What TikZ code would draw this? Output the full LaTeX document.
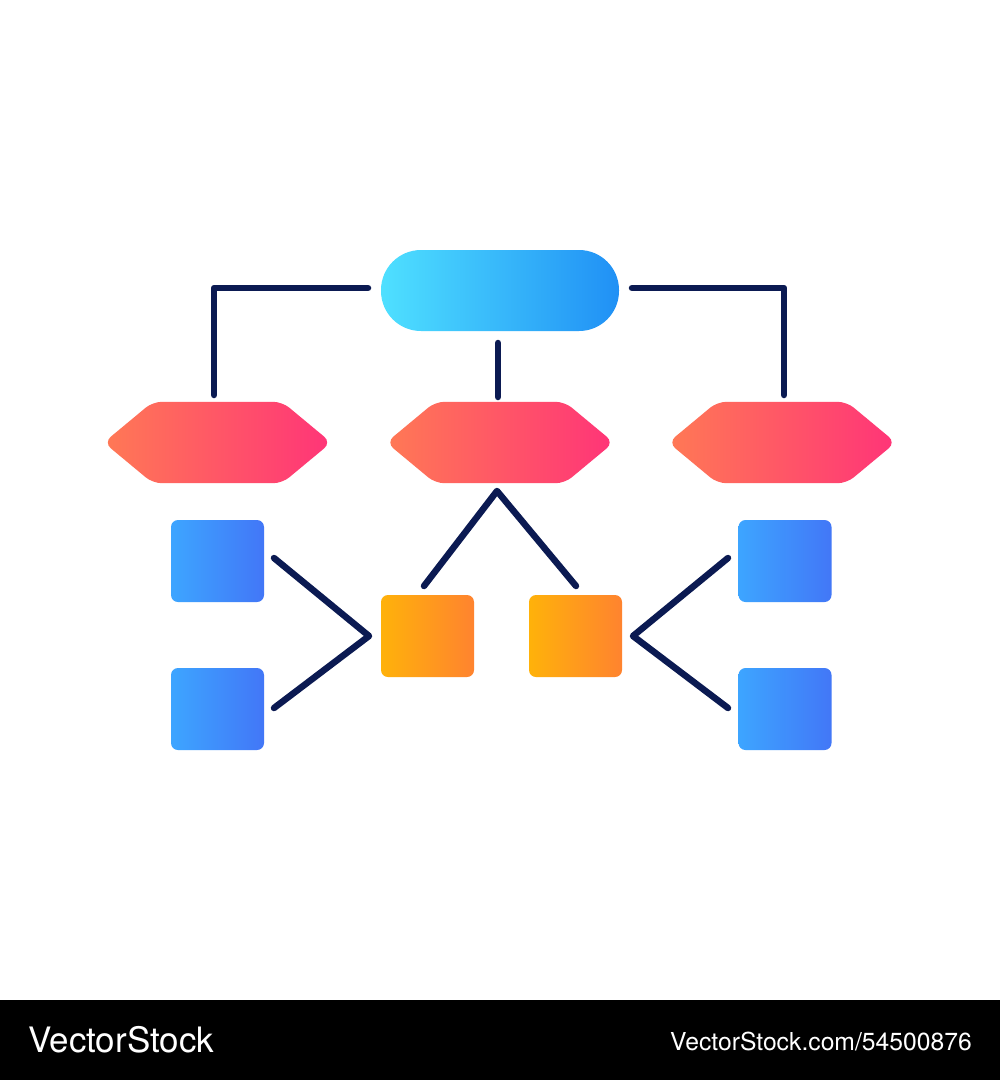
\documentclass[tikz,border=0pt]{standalone}
\usepackage{fontspec}
\setmainfont{TeX Gyre Heros}
\usetikzlibrary{calc}
\definecolor{navy}{HTML}{0B1A52}
\definecolor{pillL}{HTML}{4FE0FF}
\definecolor{pillR}{HTML}{2090F5}
\definecolor{hexL}{HTML}{FF7955}
\definecolor{hexR}{HTML}{FF3478}
\definecolor{bluL}{HTML}{3DA5FF}
\definecolor{bluR}{HTML}{4277F7}
\definecolor{oraL}{HTML}{FFB20A}
\definecolor{oraR}{HTML}{FF832F}
\tikzset{
  conn/.style={draw=navy, line width=6.5pt, line cap=round, line join=round},
  bluebox/.style={minimum width=93pt, minimum height=82pt, inner sep=0pt, rounded corners=7pt, left color=bluL, right color=bluR, draw=none},
  orabox/.style={minimum width=93pt, minimum height=82pt, inner sep=0pt, rounded corners=7pt, left color=oraL, right color=oraR, draw=none},
  pillbox/.style={minimum width=238pt, minimum height=81pt, inner sep=0pt, rounded corners=40pt, left color=pillL, right color=pillR, draw=none},
  hexanchor/.style={minimum width=217pt, minimum height=81pt, inner sep=0pt, draw=none},
}
\newcommand{\hexshape}[1]{%
  \shade[left color=hexL, right color=hexR, rounded corners=9pt]
    ($(#1.west)+(-5,0)$) -- ($(#1.north west)+(44,0)$) -- ($(#1.north east)+(-44,0)$) --
    ($(#1.east)+(5,0)$) -- ($(#1.south east)+(-44,0)$) -- ($(#1.south west)+(44,0)$) -- cycle;}
\begin{document}
\begin{tikzpicture}[x=1pt,y=-1pt]
\useasboundingbox (0,0) rectangle (1000,1080);
\fill[white] (0,0) rectangle (1000,1000);
\fill[black] (0,1000) rectangle (1000,1080);

% top pill
\node[pillbox] (top) at (500,290.5) {};

% hexagons
\node[hexanchor] (h1) at (217.5,442.5) {};
\node[hexanchor] (h2) at (500,442.5) {};
\node[hexanchor] (h3) at (782,442.5) {};
\hexshape{h1}
\hexshape{h2}
\hexshape{h3}

% squares
\node[bluebox] (b1) at (217.5,561) {};
\node[bluebox] (b2) at (217.5,709) {};
\node[bluebox] (b3) at (785,561) {};
\node[bluebox] (b4) at (785,709) {};
\node[orabox] (o1) at (427.5,636) {};
\node[orabox] (o2) at (575.5,636) {};

% connector points
\coordinate (tl) at (368,288);
\coordinate (tlc) at (214,288);
\coordinate (h1t) at (214,395);
\coordinate (tr) at (632,288);
\coordinate (trc) at (784,288);
\coordinate (h3t) at (784,395);
\coordinate (tm) at (498,343);
\coordinate (h2t) at (498,397);
\coordinate (h2b) at (497,491);
\coordinate (o1t) at (424,586);
\coordinate (o2t) at (576,586);
\coordinate (b1r) at (274,558);
\coordinate (b2r) at (274,708);
\coordinate (o1l) at (369,636);
\coordinate (b3l) at (728,558);
\coordinate (b4l) at (728,708);
\coordinate (o2r) at (633,636);

\draw[conn] (tl) -- (tlc) -- (h1t);
\draw[conn] (tr) -- (trc) -- (h3t);
\draw[conn] (tm) -- (h2t);
\draw[conn] (o1t) -- (h2b) -- (o2t);
\draw[conn] (b1r) -- (o1l) -- (b2r);
\draw[conn] (b3l) -- (o2r) -- (b4l);

% footer
\node[anchor=base west, inner sep=0pt, text=white, font=\fontsize{35}{35}\selectfont] (wm1) at (28,1052) {VectorStock};
\node[anchor=base east, inner sep=0pt, text=white, font=\fontsize{24.7}{25}\selectfont] (wm2) at (972,1050) {VectorStock.com/54500876};
\end{tikzpicture}
\end{document}
